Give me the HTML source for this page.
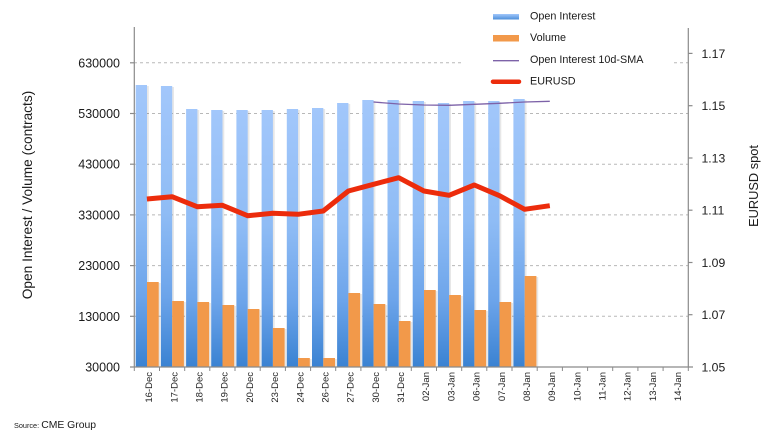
<!DOCTYPE html>
<html><head><meta charset="utf-8"><style>
html,body{margin:0;padding:0;background:#fff;}
svg{display:block;font-family:"Liberation Sans",Arial,sans-serif;}
</style></head><body>
<svg width="771" height="435" viewBox="0 0 771 435" xmlns="http://www.w3.org/2000/svg">
<defs>
<linearGradient id="bg" x1="0" y1="0" x2="0" y2="1">
<stop offset="0" stop-color="#a2c7fb"/>
<stop offset="0.45" stop-color="#8fbcf5"/>
<stop offset="0.75" stop-color="#6ca4ea"/>
<stop offset="1" stop-color="#3a82d2"/>
</linearGradient>
<linearGradient id="lg" x1="0" y1="0" x2="0" y2="1">
<stop offset="0" stop-color="#a2c7fb"/>
<stop offset="1" stop-color="#4d8fd9"/>
</linearGradient>
</defs>

<!-- gridlines -->
<g stroke="#b8b8b8" stroke-width="1" stroke-dasharray="3,3">
<line x1="134" y1="62.8" x2="688" y2="62.8"/>
<line x1="134" y1="113.5" x2="688" y2="113.5"/>
<line x1="134" y1="164.2" x2="688" y2="164.2"/>
<line x1="134" y1="214.9" x2="688" y2="214.9"/>
<line x1="134" y1="265.6" x2="688" y2="265.6"/>
<line x1="134" y1="316.3" x2="688" y2="316.3"/>
</g>

<!-- shadows -->
<g fill="#000" opacity="0.09">
<rect x="137.5" y="86" width="11.3" height="281"/><rect x="148.8" y="283" width="11.7" height="84"/>
<rect x="162.7" y="87" width="11.3" height="280"/><rect x="174.0" y="302" width="11.7" height="65"/>
<rect x="187.9" y="110" width="11.3" height="257"/><rect x="199.2" y="303" width="11.7" height="64"/>
<rect x="213.0" y="111" width="11.3" height="256"/><rect x="224.3" y="306" width="11.7" height="61"/>
<rect x="238.2" y="111" width="11.3" height="256"/><rect x="249.5" y="310" width="11.7" height="57"/>
<rect x="263.4" y="111" width="11.3" height="256"/><rect x="274.7" y="329" width="11.7" height="38"/>
<rect x="288.6" y="110" width="11.3" height="257"/><rect x="299.9" y="359" width="11.7" height="8"/>
<rect x="313.8" y="109" width="11.3" height="258"/><rect x="325.1" y="359" width="11.7" height="8"/>
<rect x="338.9" y="104" width="11.3" height="263"/><rect x="350.2" y="294" width="11.7" height="73"/>
<rect x="364.1" y="101" width="11.3" height="266"/><rect x="375.4" y="305" width="11.7" height="62"/>
<rect x="389.3" y="101" width="11.3" height="266"/><rect x="400.6" y="322" width="11.7" height="45"/>
<rect x="414.5" y="102" width="11.3" height="265"/><rect x="425.8" y="291" width="11.7" height="76"/>
<rect x="439.7" y="104" width="11.3" height="263"/><rect x="451.0" y="296" width="11.7" height="71"/>
<rect x="464.9" y="102" width="11.3" height="265"/><rect x="476.2" y="311" width="11.7" height="56"/>
<rect x="490.0" y="102" width="11.3" height="265"/><rect x="501.3" y="303" width="11.7" height="64"/>
<rect x="515.2" y="100" width="11.3" height="267"/><rect x="526.5" y="277" width="11.7" height="90"/>
</g>

<!-- open interest bars -->
<g fill="url(#bg)">
<rect x="135.7" y="85" width="11.3" height="282"/>
<rect x="160.9" y="86" width="11.3" height="281"/>
<rect x="186.1" y="109" width="11.3" height="258"/>
<rect x="211.2" y="110" width="11.3" height="257"/>
<rect x="236.4" y="110" width="11.3" height="257"/>
<rect x="261.6" y="110" width="11.3" height="257"/>
<rect x="286.8" y="109" width="11.3" height="258"/>
<rect x="312.0" y="108" width="11.3" height="259"/>
<rect x="337.1" y="103" width="11.3" height="264"/>
<rect x="362.3" y="100" width="11.3" height="267"/>
<rect x="387.5" y="100" width="11.3" height="267"/>
<rect x="412.7" y="101" width="11.3" height="266"/>
<rect x="437.9" y="103" width="11.3" height="264"/>
<rect x="463.1" y="101" width="11.3" height="266"/>
<rect x="488.2" y="101" width="11.3" height="266"/>
<rect x="513.4" y="99" width="11.3" height="268"/>
</g>

<!-- volume bars -->
<g fill="#f2994a">
<rect x="147.0" y="282" width="11.7" height="85"/>
<rect x="172.2" y="301" width="11.7" height="66"/>
<rect x="197.4" y="302" width="11.7" height="65"/>
<rect x="222.5" y="305" width="11.7" height="62"/>
<rect x="247.7" y="309" width="11.7" height="58"/>
<rect x="272.9" y="328" width="11.7" height="39"/>
<rect x="298.1" y="358" width="11.7" height="9"/>
<rect x="323.3" y="358" width="11.7" height="9"/>
<rect x="348.4" y="293" width="11.7" height="74"/>
<rect x="373.6" y="304" width="11.7" height="63"/>
<rect x="398.8" y="321" width="11.7" height="46"/>
<rect x="424.0" y="290" width="11.7" height="77"/>
<rect x="449.2" y="295" width="11.7" height="72"/>
<rect x="474.4" y="310" width="11.7" height="57"/>
<rect x="499.5" y="302" width="11.7" height="65"/>
<rect x="524.7" y="276" width="11.7" height="91"/>
</g>

<!-- SMA line -->
<polyline fill="none" stroke="#7d62a8" stroke-width="1.3" points="373.5,102 398.7,104 423.9,105 449.1,105.3 474.3,104.3 499.5,103.3 524.6,102 549.8,101.3"/>

<!-- EURUSD line -->
<polyline fill="none" stroke="#ec2c0c" stroke-width="5" stroke-linejoin="round" points="146.9,199 172.1,196.7 197.2,206.7 222.4,205.3 247.6,215.7 272.8,213.3 298,214.3 323.2,211 348.4,191 373.5,184.3 398.7,177.7 423.9,191 449.1,195.3 474.3,185 499.5,195.7 524.6,209.3 549.8,205.7"/>

<!-- legend background -->
<rect x="462" y="0" width="211" height="94" fill="#fff"/>

<!-- axes -->
<g stroke="#8a8a8a" stroke-width="1.2" fill="none">
<line x1="134.3" y1="27" x2="134.3" y2="367.5"/>
<line x1="688.3" y1="28" x2="688.3" y2="367.5"/>
<line x1="130" y1="367" x2="693" y2="367"/>
<line x1="130" y1="62.8" x2="134" y2="62.8"/>
<line x1="130" y1="113.5" x2="134" y2="113.5"/>
<line x1="130" y1="164.2" x2="134" y2="164.2"/>
<line x1="130" y1="214.9" x2="134" y2="214.9"/>
<line x1="130" y1="265.6" x2="134" y2="265.6"/>
<line x1="130" y1="316.3" x2="134" y2="316.3"/>
<line x1="688" y1="53.4" x2="692.5" y2="53.4"/>
<line x1="688" y1="105.7" x2="692.5" y2="105.7"/>
<line x1="688" y1="158" x2="692.5" y2="158"/>
<line x1="688" y1="210.2" x2="692.5" y2="210.2"/>
<line x1="688" y1="262.5" x2="692.5" y2="262.5"/>
<line x1="688" y1="314.7" x2="692.5" y2="314.7"/>
</g>
<g stroke="#8a8a8a" stroke-width="1">
<line x1="134.3" y1="367" x2="134.3" y2="371"/><line x1="159.5" y1="367" x2="159.5" y2="371"/>
<line x1="184.7" y1="367" x2="184.7" y2="371"/><line x1="209.8" y1="367" x2="209.8" y2="371"/>
<line x1="235.0" y1="367" x2="235.0" y2="371"/><line x1="260.2" y1="367" x2="260.2" y2="371"/>
<line x1="285.4" y1="367" x2="285.4" y2="371"/><line x1="310.6" y1="367" x2="310.6" y2="371"/>
<line x1="335.7" y1="367" x2="335.7" y2="371"/><line x1="360.9" y1="367" x2="360.9" y2="371"/>
<line x1="386.1" y1="367" x2="386.1" y2="371"/><line x1="411.3" y1="367" x2="411.3" y2="371"/>
<line x1="436.5" y1="367" x2="436.5" y2="371"/><line x1="461.7" y1="367" x2="461.7" y2="371"/>
<line x1="486.8" y1="367" x2="486.8" y2="371"/><line x1="512.0" y1="367" x2="512.0" y2="371"/>
<line x1="537.2" y1="367" x2="537.2" y2="371"/><line x1="562.4" y1="367" x2="562.4" y2="371"/>
<line x1="587.6" y1="367" x2="587.6" y2="371"/><line x1="612.7" y1="367" x2="612.7" y2="371"/>
<line x1="637.9" y1="367" x2="637.9" y2="371"/><line x1="663.1" y1="367" x2="663.1" y2="371"/>
<line x1="688.3" y1="367" x2="688.3" y2="371"/>
</g>

<!-- left tick labels -->
<g font-size="12.5" fill="#1a1a1a" text-anchor="end">
<text x="120" y="67.3">630000</text>
<text x="120" y="118">530000</text>
<text x="120" y="168.7">430000</text>
<text x="120" y="219.4">330000</text>
<text x="120" y="270.1">230000</text>
<text x="120" y="320.8">130000</text>
<text x="120" y="371.5">30000</text>
</g>

<!-- right tick labels -->
<g font-size="12.2" fill="#1a1a1a">
<text x="701.5" y="57.8">1.17</text>
<text x="701.5" y="110.1">1.15</text>
<text x="701.5" y="162.4">1.13</text>
<text x="701.5" y="214.6">1.11</text>
<text x="701.5" y="266.9">1.09</text>
<text x="701.5" y="319.1">1.07</text>
<text x="701.5" y="371.4">1.05</text>
</g>

<!-- axis titles -->
<text transform="translate(32,195) rotate(-90)" font-size="13.7" fill="#1a1a1a" text-anchor="middle">Open Interest / Volume (contracts)</text>
<text transform="translate(758,186) rotate(-90)" font-size="12.8" fill="#1a1a1a" text-anchor="middle">EURUSD spot</text>

<!-- x labels -->
<g font-size="9.5" fill="#222" text-anchor="end">
<text transform="translate(152.2,372) rotate(-90)">16-Dec</text>
<text transform="translate(177.4,372) rotate(-90)">17-Dec</text>
<text transform="translate(202.5,372) rotate(-90)">18-Dec</text>
<text transform="translate(227.7,372) rotate(-90)">19-Dec</text>
<text transform="translate(252.9,372) rotate(-90)">20-Dec</text>
<text transform="translate(278.1,372) rotate(-90)">23-Dec</text>
<text transform="translate(303.3,372) rotate(-90)">24-Dec</text>
<text transform="translate(328.5,372) rotate(-90)">26-Dec</text>
<text transform="translate(353.7,372) rotate(-90)">27-Dec</text>
<text transform="translate(378.8,372) rotate(-90)">30-Dec</text>
<text transform="translate(404.0,372) rotate(-90)">31-Dec</text>
<text transform="translate(429.2,372) rotate(-90)">02-Jan</text>
<text transform="translate(454.4,372) rotate(-90)">03-Jan</text>
<text transform="translate(479.6,372) rotate(-90)">06-Jan</text>
<text transform="translate(504.8,372) rotate(-90)">07-Jan</text>
<text transform="translate(529.9,372) rotate(-90)">08-Jan</text>
<text transform="translate(555.1,372) rotate(-90)">09-Jan</text>
<text transform="translate(580.3,372) rotate(-90)">10-Jan</text>
<text transform="translate(605.5,372) rotate(-90)">11-Jan</text>
<text transform="translate(630.7,372) rotate(-90)">12-Jan</text>
<text transform="translate(655.9,372) rotate(-90)">13-Jan</text>
<text transform="translate(681.1,372) rotate(-90)">14-Jan</text>
</g>

<!-- legend -->
<rect x="493" y="14" width="26" height="5.5" fill="url(#lg)"/>
<rect x="493" y="35" width="26" height="6.5" fill="#f2994a"/>
<line x1="493" y1="60.7" x2="519" y2="60.7" stroke="#7d62a8" stroke-width="1.3"/>
<line x1="493" y1="81.7" x2="519" y2="81.7" stroke="#ec2c0c" stroke-width="4.5" stroke-linecap="round"/>
<g font-size="10.8" fill="#1a1a1a">
<text x="530" y="19.5">Open Interest</text>
<text x="530" y="41">Volume</text>
<text x="530" y="63.2">Open Interest 10d-SMA</text>
<text x="530" y="84.6">EURUSD</text>
</g>

<!-- source -->
<text x="14" y="428" fill="#1a1a1a"><tspan font-size="7.3">Source: </tspan><tspan font-size="10.4">CME Group</tspan></text>
</svg>
</body></html>
